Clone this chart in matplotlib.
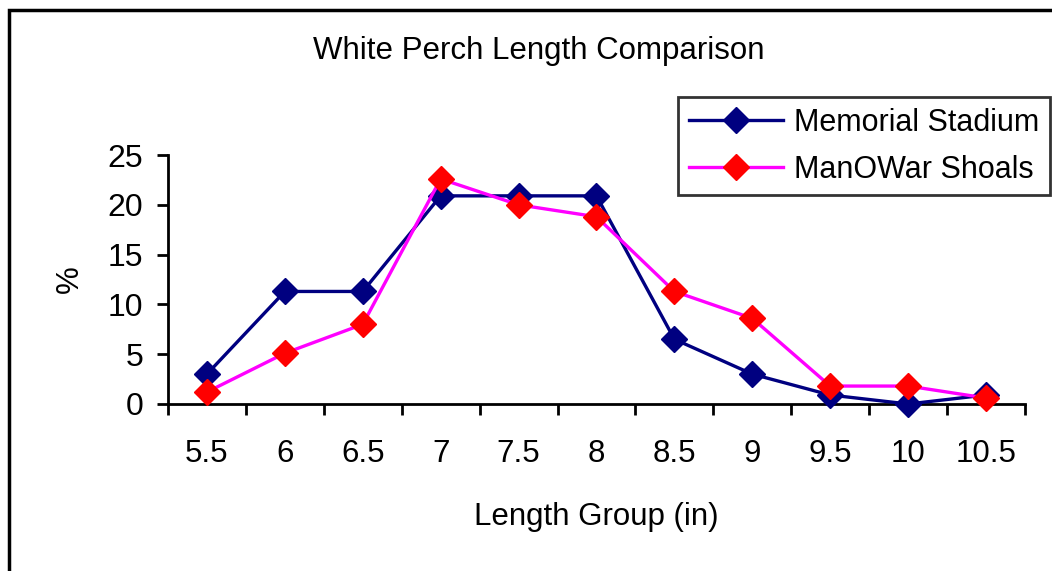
import matplotlib.pyplot as plt
import matplotlib.patches as mpatches
import numpy as np

plt.rcParams['font.family'] = ['Liberation Sans', 'DejaVu Sans']

length_groups = ["5.5", "6", "6.5", "7", "7.5", "8", "8.5", "9", "9.5", "10", "10.5"]
memorial = [3.0, 11.3, 11.3, 20.9, 20.9, 20.9, 6.5, 3.0, 0.9, 0.0, 0.9]
manowar = [1.2, 5.1, 8.0, 22.6, 20.0, 18.8, 11.3, 8.6, 1.8, 1.8, 0.6]

fig = plt.figure(figsize=(10.52, 5.71), dpi=100)
ax = fig.add_axes([0.1597, 0.2925, 0.8146, 0.436])

# рамка вокруг диаграммы (правый и нижний края уходят за картинку)
border = mpatches.Rectangle((0.0085, -0.05), 1.05, 1.032, transform=fig.transFigure,
                            fill=False, edgecolor='black', linewidth=2.5, clip_on=False)
fig.patches.append(border)

x = np.arange(len(length_groups))
ax.plot(x, memorial, color='#000080', linewidth=2.4, marker='D', markersize=13,
        markerfacecolor='#000080', markeredgecolor='#000080', label='Memorial Stadium', clip_on=False, zorder=3)
ax.plot(x, manowar, color='#FF00FF', linewidth=2.4, marker='D', markersize=13,
        markerfacecolor='#FF0000', markeredgecolor='#FF0000', label='ManOWar Shoals', clip_on=False, zorder=4)

ax.set_xlim(-0.5, len(length_groups) - 0.5)
ax.set_ylim(0, 25)
ax.set_yticks([0, 5, 10, 15, 20, 25])

# подписи категорий по центру, засечки между категориями
ax.set_xticks(x)
ax.set_xticklabels(length_groups)
ax.set_xticks(np.arange(-0.5, len(length_groups), 1), minor=True)
ax.tick_params(axis='x', which='major', length=0, pad=25, labelsize=22.5)
ax.tick_params(axis='x', which='minor', length=8, width=2, direction='out')
ax.tick_params(axis='y', length=8, width=2, direction='out', labelsize=23, pad=10)

for s in ['top', 'right']:
    ax.spines[s].set_visible(False)
for s in ['left', 'bottom']:
    ax.spines[s].set_linewidth(2)

ax.set_xlabel("Length Group (in)", fontsize=22.5, labelpad=24)
ax.set_ylabel("%", fontsize=22.5, labelpad=16)

fig.text(0.512, 0.91, "White Perch Length Comparison", ha='center', va='center', fontsize=22.5)

leg = ax.legend(loc='upper right', bbox_to_anchor=(0.998, 0.83), bbox_transform=fig.transFigure,
                fontsize=22, frameon=True, fancybox=False, edgecolor='black', handlelength=3.1,
                borderpad=0.35, labelspacing=0.55, handletextpad=0.35, borderaxespad=0)
leg.get_frame().set_linewidth(2)

fig.savefig("out.png", dpi=100)
